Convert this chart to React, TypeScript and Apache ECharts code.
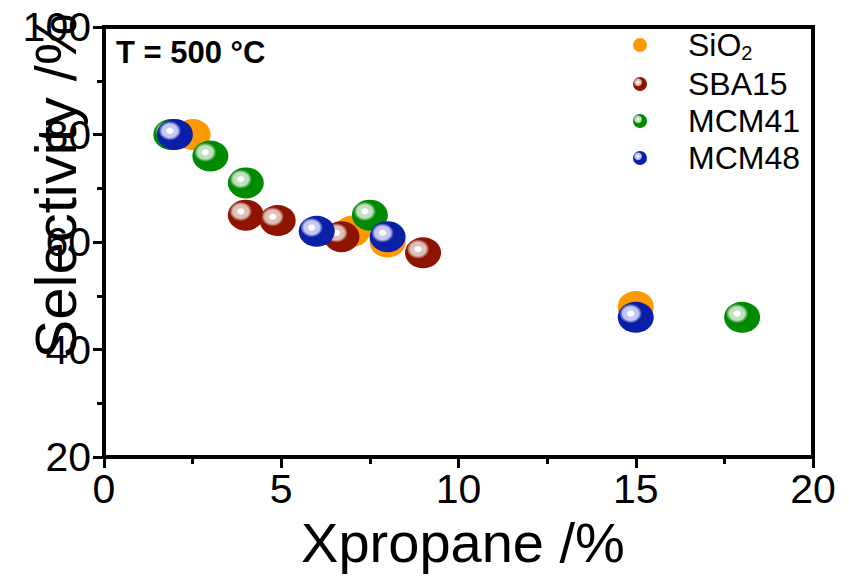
import React, { useEffect, useRef } from "react";
import * as echarts from "echarts";

const seriesNames = ["SiO2", "SBA15", "MCM41", "MCM48"];
const sio2Data: number[][] = [[2.5, 80], [7, 62], [8, 60], [15, 48]];
const sba15Data: number[][] = [[4, 65], [4.9, 64], [6.7, 61], [9, 58]];
const mcm41Data: number[][] = [[1.9, 80], [3, 76], [4, 71], [7.5, 65], [18, 46]];
const mcm48Data: number[][] = [[2, 80], [6, 62], [8, 61], [15, 46]];
const baseColors = ["#ff9900", "#8f1400", "#008a00", "#0a1fa8"];
const midColors = ["", "#b8786e", "#5cae5c", "#6c76cc"];
const lightColors = ["", "#e0c0bb", "#c0e0c0", "#c4c8f2"];

const FONT = '"Liberation Sans", Arial, Helvetica, sans-serif';
const ELLIPSE = "path://M0,50 A50,50 0 1,1 100,50 A50,50 0 1,1 0,50 Z";

function sphere(i: number): any {
  if (i === 0) return baseColors[0];
  return new echarts.graphic.RadialGradient(0.36, 0.38, 0.6, [
    { offset: 0, color: "#ffffff" },
    { offset: 0.13, color: "#ffffff" },
    { offset: 0.2, color: lightColors[i] },
    { offset: 0.36, color: lightColors[i] },
    { offset: 0.44, color: midColors[i] },
    { offset: 0.52, color: baseColors[i] },
    { offset: 1, color: baseColors[i] },
  ]);
}

export default function App() {
  const ref = useRef<HTMLDivElement>(null);
  useEffect(() => {
    if (!ref.current) return;
    const chart = echarts.init(ref.current, undefined, { renderer: "svg" });
    const datas = [sio2Data, sba15Data, mcm41Data, mcm48Data];
    const axisCommon = {
      axisLine: { show: true, lineStyle: { color: "#000", width: 4 } },
      axisTick: { show: true, inside: false, length: 11, lineStyle: { color: "#000", width: 3 } },
      minorTick: { show: true, splitNumber: 2, length: 7, lineStyle: { color: "#000", width: 3 } },
      splitLine: { show: false },
      minorSplitLine: { show: false },
      axisLabel: { color: "#000", fontSize: 41, fontFamily: FONT },
    };
    chart.setOption({
      animation: false,
      backgroundColor: "#fff",
      grid: {
        left: 104,
        right: 36,
        top: 27,
        bottom: 121,
        show: true,
        borderColor: "#000",
        borderWidth: 4,
        backgroundColor: "transparent",
      },
      xAxis: {
        type: "value",
        min: 0,
        max: 20,
        interval: 5,
        ...axisCommon,
        axisLabel: { ...axisCommon.axisLabel, margin: 11 },
      },
      yAxis: {
        type: "value",
        min: 20,
        max: 100,
        interval: 20,
        ...axisCommon,
        axisLabel: { ...axisCommon.axisLabel, margin: 13 },
      },
      legend: {
        orient: "vertical",
        left: 628,
        top: 24,
        itemWidth: 18,
        itemHeight: 14,
        itemGap: 5,
        data: seriesNames,
        formatter: (name: string) =>
          name === "SiO2" ? "{a|SiO}{s|2}" : "{a|" + name + "}",
        textStyle: {
          color: "#000",
          fontFamily: FONT,
          fontSize: 32,
          rich: {
            a: { fontSize: 32, fontFamily: FONT, color: "#000", padding: [0, 0, 0, 34], lineHeight: 32 },
            s: { fontSize: 20, fontFamily: FONT, color: "#000", padding: [16, 0, 0, 0], verticalAlign: "bottom" },
          },
        },
      },
      series: datas.map((d, i) => ({
        name: seriesNames[i],
        type: "scatter",
        data: d,
        symbol: ELLIPSE,
        symbolSize: [36, 31],
        itemStyle: { color: sphere(i), opacity: 1 },
        z: 2 + i,
      })),
      graphic: [
        {
          type: "text",
          x: 116,
          y: 52,
          style: {
            text: "T = 500 °C",
            fontSize: 31,
            fontWeight: "bold",
            fontFamily: FONT,
            fill: "#000",
            align: "left",
            verticalAlign: "middle",
          },
        },
        {
          type: "text",
          x: 463,
          y: 542,
          style: {
            text: "Xpropane /%",
            fontSize: 56,
            fontFamily: FONT,
            fill: "#000",
            align: "center",
            verticalAlign: "middle",
          },
        },
        {
          type: "text",
          x: 55,
          y: 186,
          rotation: Math.PI / 2,
          style: {
            text: "Selectivity /%",
            fontSize: 58,
            fontFamily: FONT,
            fill: "#000",
            align: "center",
            verticalAlign: "middle",
          },
        },
      ],
    });
    return () => chart.dispose();
  }, []);
  return (
    <div
      ref={ref}
      style={{ position: "fixed", left: 0, top: 0, width: 849, height: 578, background: "#fff" }}
    />
  );
}
